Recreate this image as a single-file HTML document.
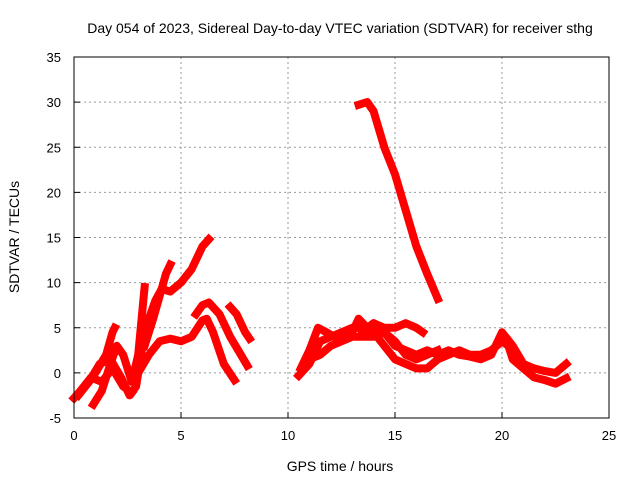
<!DOCTYPE html>
<html><head><meta charset="utf-8"><style>
html,body{margin:0;padding:0;background:#fff}
svg{display:block;font-family:"Liberation Sans",sans-serif}
</style></head><body>
<svg id="chart" width="640" height="480" viewBox="0 0 640 480">
<text x="340" y="33" font-size="14" text-anchor="middle">Day 054 of 2023, Sidereal Day-to-day VTEC variation (SDTVAR) for receiver sthg</text>
<text x="340" y="471" font-size="14" text-anchor="middle">GPS time / hours</text>
<text transform="translate(19,237) rotate(-90)" font-size="14" text-anchor="middle">SDTVAR / TECUs</text>
<g id="grid"></g><g id="ticks"></g><g id="series"></g>
<rect x="74" y="57" width="535" height="361" fill="none" stroke="#000" stroke-width="1"/>
</svg>
<script>
const xTicks=[0,5,10,15,20,25];
const yTicks=[-5,0,5,10,15,20,25,30,35];
const t1=[[0,-2.8],[0.5,-1.5],[1,0],[1.5,2],[1.8,4.5],[1.9,5]];
const t2=[[0.2,-2.5],[0.7,-1],[1.2,1],[1.7,1.5],[2.2,-0.5],[2.6,-2.5],[2.9,-1.5],[3.2,3],[3.5,6],[3.8,8],[4.1,9.3],[4.5,9],[5,10],[5.5,11.5],[6,14],[6.3,14.8]];
const t3=[[0.9,-3.5],[1.3,-2],[1.7,1],[2,3],[2.3,2],[2.7,-1],[3,2],[3.3,9.5]];
const t4=[[3,0],[3.5,2],[4,3.5],[4.5,3.8],[5,3.5],[5.5,4],[6,5.8],[6.2,6],[6.5,4.5],[7,1],[7.5,-0.8]];
const t5=[[5.7,6.5],[6,7.5],[6.3,7.8],[6.8,6.5],[7.3,4],[7.8,2],[8.1,0.8]];
const t6=[[7.3,7.3],[7.6,6.5],[8,4.5],[8.2,3.8]];
const t7=[[3.3,3],[3.7,6],[4,8.5],[4.3,11],[4.5,12]];
const t8=[[13.3,29.7],[13.7,30],[14,29],[14.5,25],[15,22],[15.5,18],[16,14],[16.5,11],[17,8.2]];
const t9=[[10.5,-0.3],[11,1],[11.5,3.5],[12,4],[12.5,4.5],[13,5],[13.5,5],[14,4.5],[14.5,3],[15,1.5],[15.5,1],[16,0.5],[16.5,0.5],[17,1.5],[17.5,2],[18,2.5],[18.5,2],[19,2],[19.5,2.5],[20,3.5],[20.3,3],[20.5,1.5],[21,0.5],[21.5,-0.5],[22,-0.8],[22.5,-1.2],[23,-0.6]];
const t10=[[10.6,0.5],[11,2.5],[11.4,5],[11.8,4.5],[12.3,3.8],[13,4.5],[13.3,6],[13.7,5],[14,5.5],[14.5,4.5],[15,3],[15.5,2.5],[16,2],[16.5,2.5],[17,2],[17.5,2.5],[18,2],[18.5,1.8],[19,1.5],[19.5,2],[20,4.5],[20.5,3],[21,1],[21.5,0.5],[22,0.2],[22.5,0],[23,1]];
const t11=[[13.5,4.5],[14,5.5],[14.5,5],[15,5],[15.5,5.5],[16,5],[16.3,4.5]];
const t12=[[11,1.5],[11.5,2],[12,3],[12.5,3.5],[13,4],[14,4],[14.5,4.5],[15,3.5],[15.5,2],[16,1.5],[16.5,2],[17,2.5]];
const t13=[[0.3,-2],[0.8,-0.5],[1.3,-1],[1.8,0.5],[2.3,-1.5],[2.7,-2.2]];
const tracks=[t1,t2,t3,t4,t5,t6,t7,t8,t9,t10,t11,t12,t13];
const X0=74,X1=609,Y0=418,Y1=57;
const xs=v=>X0+(v-0)/25*(X1-X0);
const ys=v=>Y0-(v+5)/40*(Y0-Y1);
const NS='http://www.w3.org/2000/svg';
const grid=document.getElementById('grid'),ticks=document.getElementById('ticks'),ser=document.getElementById('series');
function mk(tag,attrs,parent){const e=document.createElementNS(NS,tag);for(const k in attrs)e.setAttribute(k,attrs[k]);parent.appendChild(e);return e;}
xTicks.forEach(t=>{
  const x=xs(t);
  if(t>0&&t<25){const g=mk('line',{x1:x,x2:x,y1:Y1,y2:Y0,stroke:'#999','stroke-dasharray':'2,3'},grid);
  
  }
  const tk=mk('line',{x1:x,x2:x,y1:Y0,y2:Y0-6,stroke:'#000'},ticks);
  
  
  const l=mk('text',{x:x,y:Y0+22,'font-size':13,'text-anchor':'middle'},ticks);l.textContent=t;
  
  
});
yTicks.forEach(t=>{
  const y=ys(t);
  if(t>-5&&t<35){const g=mk('line',{x1:X0,x2:X1,y1:y,y2:y,stroke:'#999','stroke-dasharray':'2,3'},grid);
  
  }
  const tk=mk('line',{x1:X0,x2:X0+6,y1:y,y2:y,stroke:'#000'},ticks);
  
  
  const l=mk('text',{x:X0-13,y:y+5,'font-size':13,'text-anchor':'end'},ticks);l.textContent=t;
  
  
});
tracks.forEach((tr,i)=>{
  const d=tr.map((p,j)=>(j?'L':'M')+xs(p[0]).toFixed(1)+','+ys(p[1]).toFixed(1)).join('');
  const p=mk('path',{d:d,fill:'none',stroke:'#f00','stroke-width':8,'stroke-linejoin':'round','stroke-linecap':'square'},ser);
  
  
});
</script>
</body></html>
